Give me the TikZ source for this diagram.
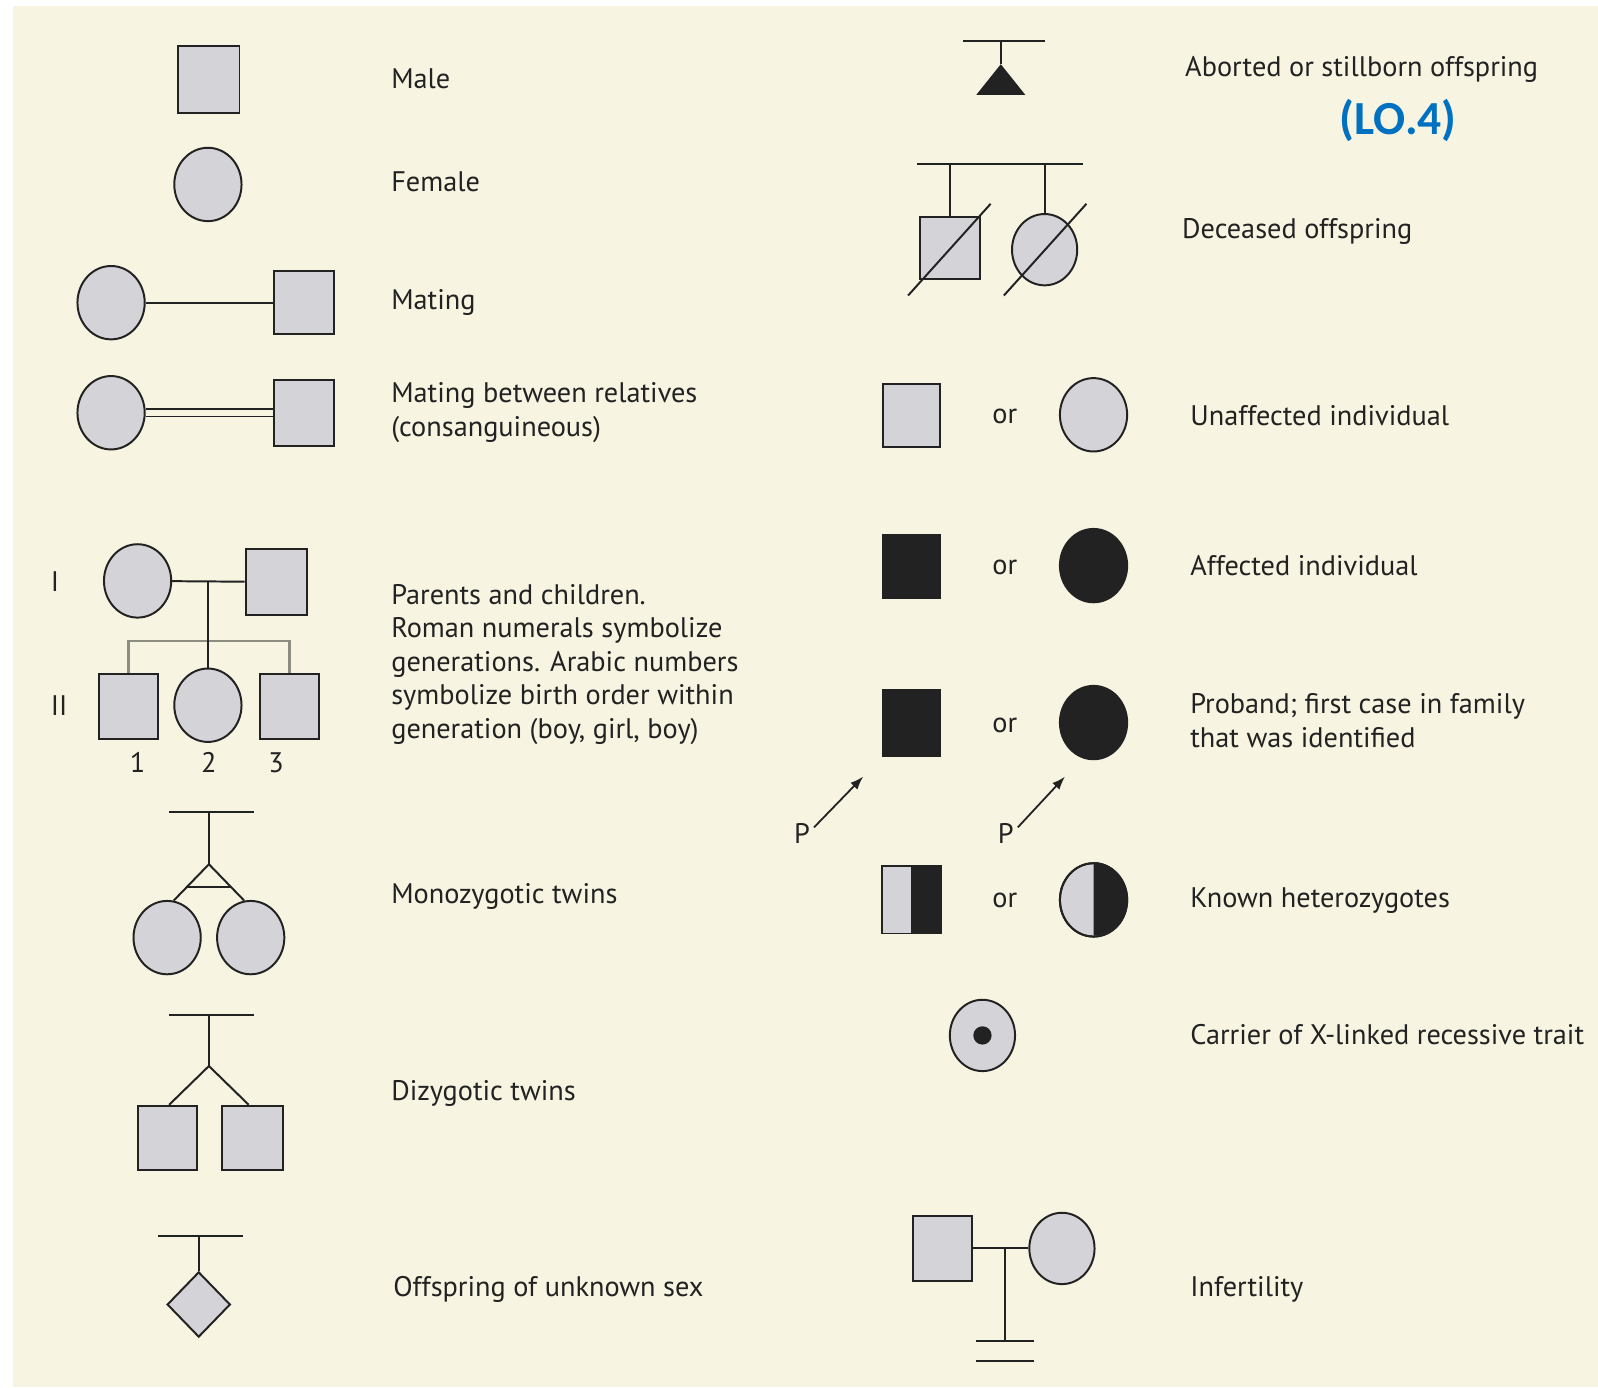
\documentclass[tikz,border=0pt]{standalone}
\usepackage{fontspec}
\setmainfont{PT Sans}
\newfontfamily\lofont{Carlito}
\usepackage{tikz}
\usetikzlibrary{arrows.meta}
\usetikzlibrary{shapes.geometric}
\usetikzlibrary{calc}
\definecolor{paper}{RGB}{247,244,225}
\definecolor{shade}{RGB}{212,212,216}
\definecolor{ink}{RGB}{34,34,34}
\definecolor{sib}{RGB}{140,140,128}
\definecolor{lobl}{RGB}{0,112,192}
\tikzset{male/.style = {draw = ink, fill = shade, inner sep = 0, minimum width = 1.2cm, minimum height = 1.28cm}}
\tikzset{female/.style = {ellipse, draw = ink, fill = shade, inner sep = 0, minimum width = 1.32cm, minimum height = 1.44cm}}
\tikzset{txt/.style = {anchor = west, inner sep = 0, text = ink, align = left, text height = 0.7em, text depth = 0pt,
                       yshift = -0.08cm, font = \fontsize{15.8}{18.7}\selectfont}}
\tikzset{orlab/.style = {inner sep = 0, text = ink, text height = 1ex, text depth = 0pt, yshift = -0.08cm,
                         font = \fontsize{15.8}{18.7}\selectfont}}
\tikzset{pointer/.style = {-{Latex[length = 0.26cm, width = 0.19cm]}, shorten <= 1pt, line width = 1pt}}

\begin{document}
\begin{tikzpicture}[x = 0.02cm, y = -0.02cm, line width = 1.1pt, draw = ink]
  \fill [white] (0, 0) rectangle (1568, 1361);
  \useasboundingbox (0, 0) rectangle (1568, 1361);
  \fill [paper] (13, 6) rectangle (1568, 1361);

  % left column
  \node (male) at (205, 78) [male, minimum height = 1.32cm] {};
  \node (fem) at (204, 181) [female] {};
  \node (mfem) at (109, 297) [female] {};
  \node (mmale) at (298.5, 297) [male, minimum width = 1.18cm, minimum height = 1.24cm] {};
  \draw (mfem) -- (mmale);
  \node (cfem) at (109, 405) [female] {};
  \node (cmale) at (298.5, 405) [male, minimum width = 1.18cm, minimum height = 1.3cm] {};
  \draw [double = paper, double distance = 0.11cm, line width = 0.9pt] (cfem) -- (cmale);

  \node (gI) at (54, 570) [orlab, text height = 0.7em] {I};
  \node (gII) at (58, 692) [orlab, text height = 0.7em] {II};
  \node (pfem) at (135, 570) [female] {};
  \node (pmale) at (271, 571) [male, minimum height = 1.28cm] {};
  \draw (pfem) -- (pmale);
  \coordinate (pmid) at (204, 570);
  \node (ch1) at (126, 693) [male, minimum width = 1.16cm] {};
  \node (ch2) at (204, 692) [female] {};
  \node (ch3) at (284, 693) [male, minimum width = 1.16cm] {};
  \draw [sib, line width = 1.4pt] (ch1.north) -- ++(0, -31) -| (ch3.north);
  \draw (pmid) -- (ch2.north);
  \node (n1) at (135, 748) [orlab, text height = 0.7em] {1};
  \node (n2) at (205, 748) [orlab, text height = 0.7em] {2};
  \node (n3) at (271, 748) [orlab, text height = 0.7em] {3};

  \coordinate (mzbar) at (205, 797);
  \coordinate (mzapex) at (205, 848);
  \node (mz1) at (164, 920) [female] {};
  \node (mz2) at (246, 920) [female] {};
  \draw (mzbar) ++(-39, 0) -- ++(83, 0);
  \draw (mzbar) -- (mzapex);
  \draw (mz1.80) -- (mzapex) -- (mz2.100);
  \draw ($(mzapex)!0.62!(mz1.80)$) -- ($(mzapex)!0.62!(mz2.100)$);

  \coordinate (dzbar) at (205, 996);
  \coordinate (dzapex) at (205, 1046);
  \node (dz1) at (164, 1116.5) [male, minimum width = 1.16cm, minimum height = 1.26cm] {};
  \node (dz2) at (248, 1116.5) [male, minimum width = 1.2cm, minimum height = 1.26cm] {};
  \draw (dzbar) ++(-39, 0) -- ++(83, 0);
  \draw (dzbar) -- (dzapex);
  \draw ([xshift = 0.04cm] dz1.north) -- (dzapex) -- ([xshift = -0.08cm] dz2.north);

  \coordinate (unbar) at (195, 1213);
  \node (unk) at (195, 1280) [diamond, draw = ink, fill = shade, inner sep = 0, minimum width = 1.24cm, minimum height = 1.28cm] {};
  \draw (unbar) ++(-40, 0) -- ++(83, 0);
  \draw (unbar) -- (unk.north);

  \node (tmale) at (383, 77) [txt] {Male};
  \node (tfem) at (383, 178) [txt] {Female};
  \node (tmat) at (383, 294) [txt] {Mating};
  \node (trel) at (383, 418) [txt] {Mating between relatives\\(consanguineous)};
  \node (tpar) at (383, 714) [txt] {Parents and children.\\Roman numerals symbolize\\generations. Arabic numbers\\symbolize birth order within\\generation (boy, girl, boy)};
  \node (tmz) at (383, 876) [txt] {Monozygotic twins};
  \node (tdz) at (383, 1070) [txt] {Dizygotic twins};
  \node (tunk) at (385, 1262) [txt] {Offspring of unknown sex};

  % right column
  \coordinate (abbar) at (982, 40);
  \coordinate (abtip) at (982, 63);
  \draw (abbar) ++(-37, 0) -- ++(80, 0);
  \draw (abbar) -- (abtip);
  \fill [ink] (abtip) -- ++(-24, 30) -- ++(48, 0) -- cycle;

  \coordinate (debar) at (981, 161);
  \node (dm) at (932.5, 243.5) [male, minimum width = 1.18cm, minimum height = 1.22cm] {};
  \node (df) at (1025, 245) [female, minimum width = 1.28cm, minimum height = 1.4cm] {};
  \draw (debar) ++(-81, 0) -- ++(163, 0);
  \draw (dm.north |- debar) -- (dm.north);
  \draw (df.north |- debar) -- (df.north);
  \draw (dm.center) +(-41.5, 46.5) -- +(39.5, -43.5);
  \draw (df.center) +(-40, 45) -- +(41, -45);

  \node (um) at (894, 408) [male, minimum width = 1.12cm, minimum height = 1.24cm] {};
  \node (or1) at (986, 407) [orlab] {or};
  \node (uf) at (1073, 407) [female] {};

  \node (am) at (894, 556) [male, fill = ink, minimum width = 1.12cm, minimum height = 1.24cm] {};
  \node (or2) at (986, 555) [orlab] {or};
  \node (af) at (1073, 555) [female, fill = ink] {};

  \node (pm) at (894, 709.5) [male, fill = ink, minimum width = 1.12cm, minimum height = 1.3cm] {};
  \node (or3) at (986, 710) [orlab] {or};
  \node (pf) at (1073, 709) [female, fill = ink] {};
  \node (p1) at (787, 818) [orlab, text height = 0.7em, inner sep = 1pt] {P};
  \node (p2) at (987, 818) [orlab, text height = 0.7em, inner sep = 1pt] {P};
  \coordinate (tip1) at (847, 762);
  \coordinate (tip2) at (1045, 762);
  \draw [pointer] (p1.north east) -- (tip1);
  \draw [pointer] (p2.north east) -- (tip2);

  \node (hm) at (894, 883) [male, draw = none, minimum width = 1.12cm, minimum height = 1.28cm] {};
  \fill [ink] (hm.north) rectangle (hm.south east);
  \draw (hm.south west) rectangle (hm.north east);
  \node (or4) at (986, 882) [orlab] {or};
  \node (hf) at (1073, 883) [female] {};
  \fill [ink] (hf.north) arc [start angle = 90, end angle = -90, x radius = 0.66cm, y radius = 0.72cm] -- cycle;
  \draw (hf.center) ellipse [x radius = 0.66cm, y radius = 0.72cm];

  \node (cf) at (964, 1016) [female, minimum width = 1.28cm, minimum height = 1.4cm] {};
  \fill [ink] (cf) circle [radius = 0.18cm];

  \node (im) at (925, 1225) [male, minimum width = 1.16cm, minimum height = 1.26cm] {};
  \node (if) at (1042, 1225) [female, minimum width = 1.28cm, minimum height = 1.4cm] {};
  \coordinate (imid) at (986, 1225);
  \coordinate (ibar) at (986, 1316);
  \draw (im) -- (if);
  \draw (imid) -- (ibar);
  \draw (ibar) ++(-28, 0) -- ++(57, 0);
  \draw (ibar) ++(-28, 19) -- ++(57, 0);

  \node (tab) at (1162, 65) [txt] {Aborted or stillborn offspring};
  \node (lo) at (1372, 118) [text = lobl, font = \lofont\bfseries\fontsize{26.5}{30}\selectfont, inner sep = 0] {(LO.4)};
  \node (tde) at (1159, 224) [txt] {Deceased offspring};
  \node (tun) at (1167, 407) [txt] {Unaffected individual};
  \node (taf) at (1167, 555) [txt] {Affected individual};
  \node (tpr) at (1167, 723) [txt] {Proband; first case in family\\that was identified};
  \node (the) at (1167, 880) [txt] {Known heterozygotes};
  \node (tca) at (1167, 1015) [txt] {Carrier of X-linked recessive trait};
  \node (tin) at (1167, 1262) [txt] {Infertility};
\end{tikzpicture}
\end{document}
